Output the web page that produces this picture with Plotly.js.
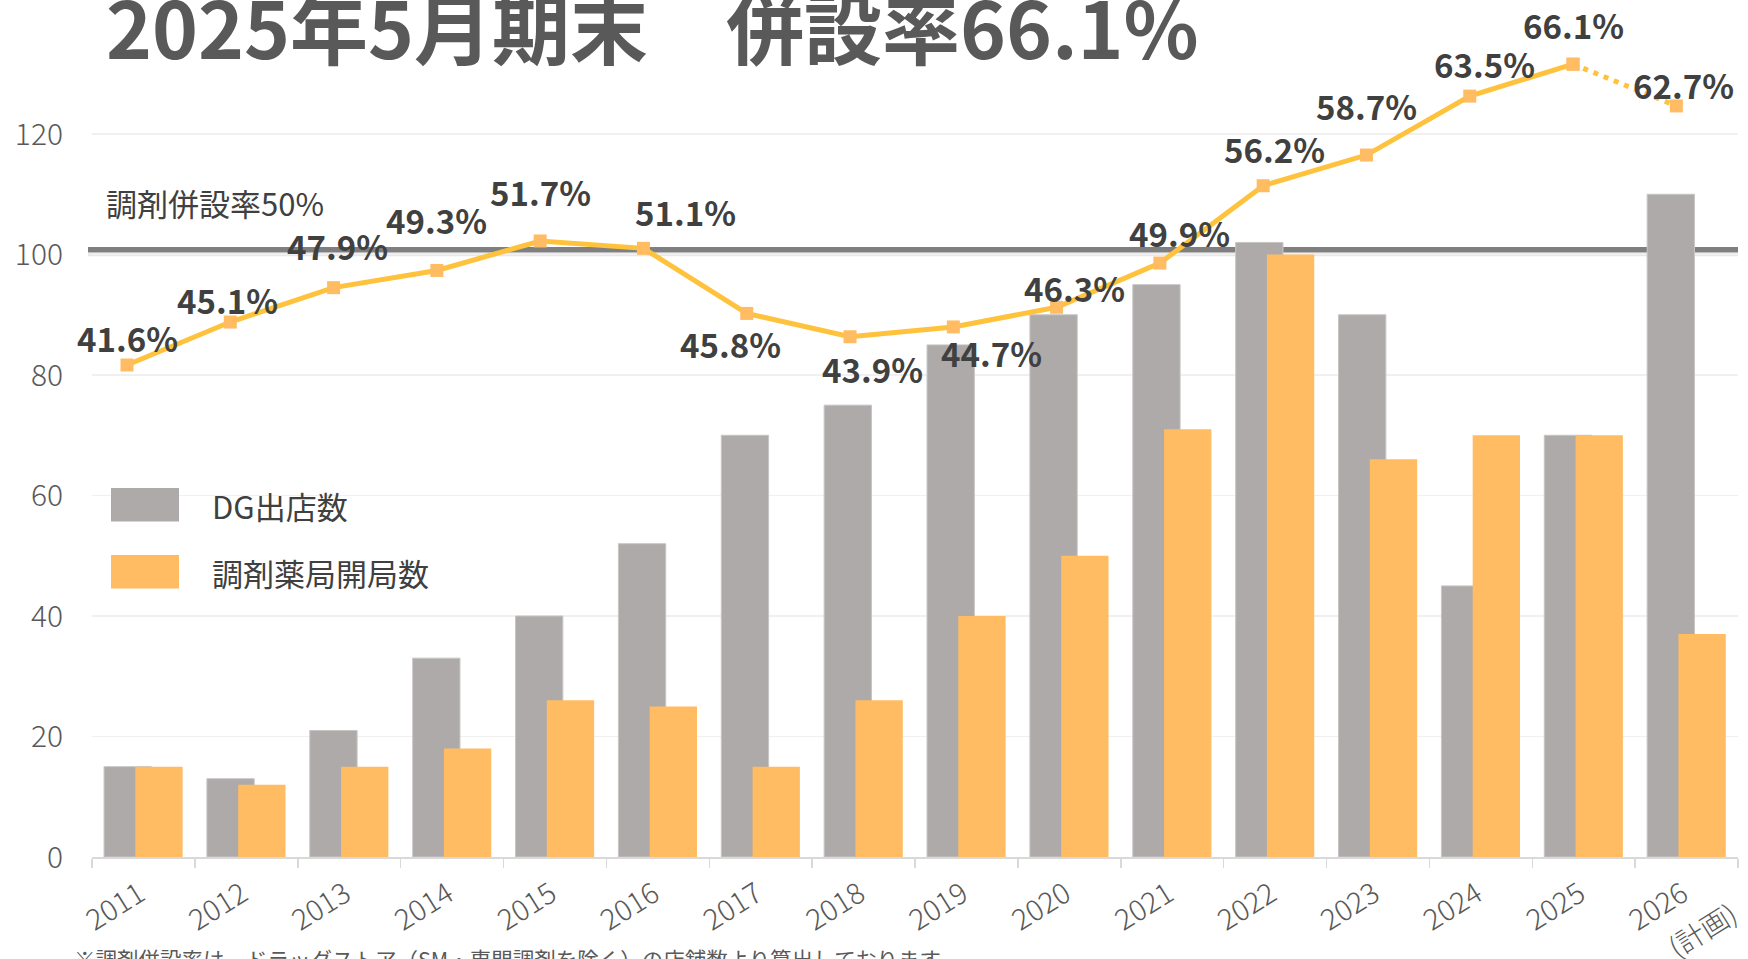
<!DOCTYPE html>
<html>
<head>
<meta charset="utf-8">
<script src="https://cdn.plot.ly/plotly-3.0.1.min.js"></script>
<style>
  html, body { margin: 0; padding: 0; background: #ffffff; }
  #chart { width: 1748px; height: 959px; }
</style>
</head>
<body>
<div id="chart"></div>
<script>
// ---------------- DATA ----------------
const categories = ["2011","2012","2013","2014","2015","2016","2017","2018","2019","2020","2021","2022","2023","2024","2025","2026"];
const tickLabels = ["2011","2012","2013","2014","2015","2016","2017","2018","2019","2020","2021","2022","2023","2024","2025","2026"];
const planNote = "(計画)";            // second line under the 2026 tick label
const dgOpenings = [15, 13, 21, 33, 40, 52, 70, 75, 85, 90, 95, 102, 90, 45, 70, 110];       // DG出店数
const pharmacyOpenings = [15, 12, 15, 18, 26, 25, 15, 26, 40, 50, 71, 100, 66, 70, 70, 37];   // 調剤薬局開局数
const combinedRate = [41.6, 45.1, 47.9, 49.3, 51.7, 51.1, 45.8, 43.9, 44.7, 46.3, 49.9, 56.2, 58.7, 63.5, 66.1, 62.7]; // 併設率 (%)
const planStartIndex = 14;            // segment from 2025 to 2026 (計画) is dotted
const benchmarkLevel = 100.8;         // 調剤併設率50% reference line, read on the left axis
const seriesNames = ["DG出店数", "調剤薬局開局数"];
const benchmarkLabel = "調剤併設率50%";
const titleText = "2025年5月期末　併設率66.1%";
const footnoteText = "※調剤併設率は、ドラッグストア（SM・専門調剤を除く）の店舗数より算出しております";

// ---------------- LAYOUT HELPERS ----------------
const W = 1748, H = 959;
const PL = 92, PR = 1738, PT = 30, PB = 857;
const px = x => (x - PL) / (PR - PL);
const py = y => (PB - y) / (PB - PT);

const GRAY = "#AEAAAA";
const ORANGE = "#FFBC62";
const LINE = "#FFC23C";
const TXT = "#595959";
const LBL = "#404040";
const JP = "'Noto Sans CJK JP', 'Noto Sans', sans-serif";

// label offsets (pixels) relative to each marker: right, down
const labelDx = [0, -3, 4, 0, 0, 42, -16, 22, 38, 18, 20, 11, 0, 15, 0, 7];
const labelDy = [-27, -22, -42, -50, -49, -36, 31, 32, 26, -19, -30, -37, -49, -32, -39, -21];

const traces = [
  {
    type: "bar", name: seriesNames[0], x: categories, y: dgOpenings,
    xaxis: "x", yaxis: "y",
    marker: { color: GRAY, line: { color: "#C8C5C5", width: 1 } },
    offset: -0.383, width: 0.46, hoverinfo: "x+y"
  },
  {
    type: "bar", name: seriesNames[1], x: categories, y: pharmacyOpenings,
    xaxis: "x", yaxis: "y",
    marker: { color: ORANGE, line: { width: 0 } },
    offset: -0.079, width: 0.46, hoverinfo: "x+y"
  },
  {
    type: "scatter", mode: "lines+markers", name: "併設率",
    x: categories.slice(0, planStartIndex + 1), y: combinedRate.slice(0, planStartIndex + 1),
    xaxis: "x2", yaxis: "y2",
    line: { color: LINE, width: 5 },
    marker: { symbol: "square", size: 13, color: ORANGE },
    cliponaxis: false
  },
  {
    type: "scatter", mode: "lines+markers", name: "併設率(計画)",
    x: categories.slice(planStartIndex), y: combinedRate.slice(planStartIndex),
    xaxis: "x2", yaxis: "y2",
    line: { color: LINE, width: 5, dash: "5px,6px" },
    marker: { symbol: "square", size: 13, color: ORANGE },
    cliponaxis: false
  }
];

const annotations = [];
combinedRate.forEach((r, i) => {
  annotations.push({
    xref: "x2", yref: "y2", x: i, y: r,
    text: r.toFixed(1) + "%", showarrow: false,
    xanchor: "center", yanchor: "middle",
    xshift: labelDx[i], yshift: -labelDy[i],
    font: { family: JP, size: 33, color: LBL, weight: 700 }
  });
});

annotations.push({
  xref: "paper", yref: "paper", x: px(104), y: py(203),
  xanchor: "left", yanchor: "middle", showarrow: false,
  text: benchmarkLabel, font: { family: JP, size: 31, color: LBL }
});
annotations.push({
  xref: "paper", yref: "paper", x: px(210), y: py(505),
  xanchor: "left", yanchor: "middle", showarrow: false,
  text: seriesNames[0], font: { family: JP, size: 31, color: LBL }
});
annotations.push({
  xref: "paper", yref: "paper", x: px(210), y: py(572),
  xanchor: "left", yanchor: "middle", showarrow: false,
  text: seriesNames[1], font: { family: JP, size: 31, color: LBL }
});
annotations.push({
  xref: "paper", yref: "paper", x: px(72), y: py(941),
  xanchor: "left", yanchor: "top", showarrow: false,
  text: footnoteText, font: { family: JP, size: 21.5, color: TXT }
});
annotations.push({
  xref: "paper", yref: "paper", x: px(1702), y: py(929),
  xanchor: "center", yanchor: "middle", showarrow: false, textangle: -32,
  text: planNote, font: { family: JP, size: 28, color: TXT, weight: 300 }
});

const shapes = [
  // benchmark line soft shadow
  { type: "line", xref: "paper", yref: "y", x0: px(88), x1: px(1738),
    ysizemode: "pixel", yanchor: benchmarkLevel, y0: -5, y1: -5,
    line: { color: "#E8E8E8", width: 3 }, layer: "below" },
  // benchmark line
  { type: "line", xref: "paper", yref: "y", x0: px(88), x1: px(1738), y0: benchmarkLevel, y1: benchmarkLevel,
    line: { color: "#7F7F7F", width: 5.5 }, layer: "below" },
  // legend swatches
  { type: "rect", xref: "paper", yref: "paper", x0: px(111), x1: px(179), y0: py(521.5), y1: py(488),
    fillcolor: GRAY, line: { width: 0 } },
  { type: "rect", xref: "paper", yref: "paper", x0: px(111), x1: px(179), y0: py(588.5), y1: py(555),
    fillcolor: ORANGE, line: { width: 0 } }
];

const hiddenAxis = {
  showticklabels: false, showgrid: false, zeroline: false, showline: false, ticks: "", fixedrange: true
};

const layout = {
  width: W, height: H,
  margin: { l: PL, r: W - PR, t: PT, b: H - PB, pad: 0 },
  paper_bgcolor: "#ffffff", plot_bgcolor: "#ffffff",
  showlegend: false,
  barmode: "overlay",
  font: { family: JP, color: TXT },
  title: {
    text: titleText,
    font: { family: JP, size: 78, color: "#595959", weight: 700 },
    x: 106 / W, xanchor: "left", xref: "container",
    y: 1, yanchor: "top", yref: "container",
    pad: { t: 4, l: 0 }
  },
  xaxis: {
    type: "category", categoryorder: "array", categoryarray: categories,
    range: [-0.5, 15.5],
    tickvals: categories, ticktext: tickLabels,
    tickangle: -32,
    tickfont: { family: JP, size: 29, color: TXT, weight: 300 },
    ticks: "outside", tickson: "boundaries", ticklen: 9, tickcolor: "#D9D9D9", tickwidth: 1.5,
    ticklabelstandoff: 7, ticklabelshift: -4,
    showline: true, linecolor: "#D9D9D9", linewidth: 2,
    showgrid: false, zeroline: false, automargin: false, fixedrange: true
  },
  xaxis2: Object.assign({
    type: "category", categoryorder: "array", categoryarray: categories,
    overlaying: "x", anchor: "y2", range: [-0.339, 15.597]
  }, hiddenAxis),
  yaxis: {
    range: [0, (PB - PT) / 6.025], dtick: 20, tick0: 0,
    tickfont: { family: JP, size: 30, color: TXT, weight: 300 },
    showgrid: true, gridcolor: "#F0F0F0", gridwidth: 1.5,
    zeroline: false, showline: false, ticks: "",
    ticklabelstandoff: 28, automargin: false, fixedrange: true
  },
  yaxis2: Object.assign({
    overlaying: "y", anchor: "x2", side: "right",
    range: [41.6 - (PB - 365) / 12.278, 41.6 + (365 - PT) / 12.278]
  }, hiddenAxis),
  annotations: annotations,
  shapes: shapes
};

Plotly.newPlot("chart", traces, layout, { displayModeBar: false, staticPlot: true });
</script>
</body>
</html>
